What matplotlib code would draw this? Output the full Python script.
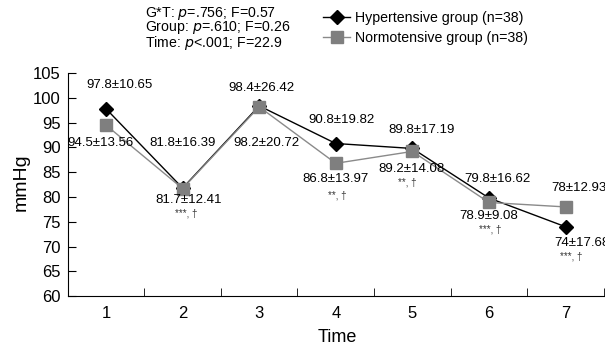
import matplotlib.pyplot as plt
import numpy as np

plt.rcParams['font.family'] = ['Liberation Sans', 'DejaVu Sans']

times = [1, 2, 3, 4, 5, 6, 7]
hyper = [97.8, 81.8, 98.4, 90.8, 89.8, 79.8, 74.0]
normo = [94.5, 81.7, 98.2, 86.8, 89.2, 78.9, 78.0]

hyper_sd = ['10.65', '16.39', '26.42', '19.82', '17.19', '16.62', '17.68']
normo_sd = ['13.56', '12.41', '20.72', '13.97', '14.08', '9.08', '12.93']
hyper_txt = ['97.8', '81.8', '98.4', '90.8', '89.8', '79.8', '74']
normo_txt = ['94.5', '81.7', '98.2', '86.8', '89.2', '78.9', '78']

# label positions (x, y) in data units
hyper_pos = [(1.17, 102.6), (2.0, 91.0), (3.03, 102.0), (4.08, 95.5),
             (5.12, 93.5), (6.11, 83.7), (7.21, 70.7)]
normo_pos = [(0.93, 91.0), (2.08, 79.4), (3.1, 91.0), (4.0, 83.7),
             (4.99, 85.7), (6.0, 76.2), (7.18, 81.9)]
sig_marks = {2: ('***, \u2020', 2.05, 76.6), 4: ('**, \u2020', 4.02, 80.3),
             5: ('**, \u2020', 4.93, 83.0), 6: ('***, \u2020', 6.01, 73.4),
             7: ('***, \u2020', 7.08, 67.9)}

fig = plt.figure(figsize=(6.05, 3.5), dpi=100)
ax = fig.add_axes([0.112, 0.154, 0.886, 0.637])

ax.plot(times, hyper, color='black', lw=1, marker='D', ms=7,
        mfc='black', mec='black', zorder=3, label='Hypertensive group (n=38)')
ax.plot(times, normo, color='#8a8a8a', lw=1, marker='s', ms=8,
        mfc='#7f7f7f', mec='#7f7f7f', zorder=4, label='Normotensive group (n=38)')

for i in range(len(times)):
    x, y = hyper_pos[i]
    ax.text(x, y, hyper_txt[i] + '\u00b1' + hyper_sd[i], ha='center', va='center',
            fontsize=9.5, clip_on=False, zorder=5)
    x, y = normo_pos[i]
    ax.text(x, y, normo_txt[i] + '\u00b1' + normo_sd[i], ha='center', va='center',
            fontsize=9.5, clip_on=False, zorder=5)
for k in sig_marks:
    s, x, y = sig_marks[k]
    ax.text(x, y, s, ha='center', va='center', fontsize=7, color='#333333')

ax.set_xlim(0.5, 7.5)
ax.set_ylim(60, 105)
ax.set_yticks(np.arange(60, 106, 5))
ax.set_xticks(times)
ax.set_xticks(np.arange(1.5, 8, 1), minor=True)
ax.tick_params(axis='x', which='major', length=0, labelsize=12, pad=7)
ax.tick_params(axis='x', which='minor', direction='in', length=6)
ax.tick_params(axis='y', direction='in', length=6, labelsize=12, pad=5)
ax.spines['top'].set_visible(False)
ax.spines['right'].set_visible(False)
ax.set_xlabel('Time', fontsize=13, va='center')
ax.xaxis.set_label_coords(0.503, -0.184)
ax.set_ylabel('mmHg', fontsize=14, va='center')
ax.yaxis.set_label_coords(-0.086, 0.51)

fig.text(0.24, 0.960, 'G*T: $\\it{p}$=.756; F=0.57', fontsize=10.2, va='center')
fig.text(0.24, 0.920, 'Group: $\\it{p}$=.610; F=0.26', fontsize=10.2, va='center')
fig.text(0.24, 0.878, 'Time: $\\it{p}$<.001; F=22.9', fontsize=10.2, va='center')

fig.legend(loc='upper left', bbox_to_anchor=(0.513, 1.006), frameon=False,
           fontsize=10.2, handlelength=1.9, handletextpad=0.35, labelspacing=0.48)

fig.savefig('out.png', dpi=100)
